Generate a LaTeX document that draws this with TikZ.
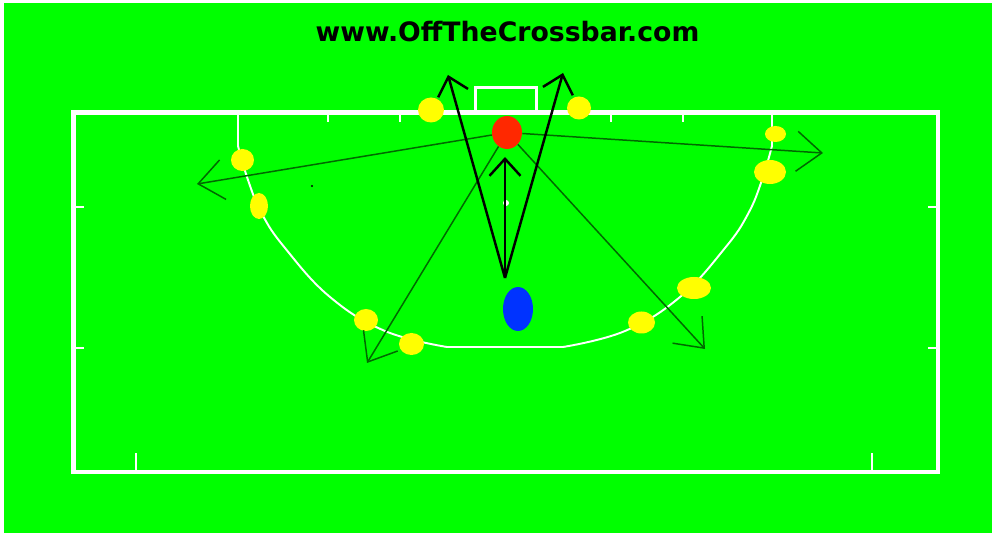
\documentclass[tikz,border=0pt]{standalone}
\usepackage{fontspec}
\newfontfamily\webfont{DejaVu Sans}
\usetikzlibrary{arrows.meta,shapes.geometric}
\definecolor{turf}{RGB}{0,255,0}
\definecolor{padyellow}{RGB}{255,255,0}
\definecolor{keeperred}{RGB}{255,40,0}
\definecolor{shooterblue}{RGB}{0,51,255}
\definecolor{runline}{RGB}{0,105,0}
\tikzset{
  player/.style={ellipse,inner sep=0pt},
  pass/.style={runline,line width=0.85pt,-{Straight Barb[length=0.5cm,width=0.8cm]}},
  shot/.style={black,line width=1.4pt,-{Straight Barb[length=0.34cm,width=0.62cm]}},
}

\begin{document}
\begin{tikzpicture}[x=0.02cm,y=-0.02cm]
  \useasboundingbox (0,0) rectangle (992,533);
  \fill[white] (0,0) rectangle (992,533);
  \fill[turf] (4,3) rectangle (992,533);
  \node[anchor=base,font=\webfont\bfseries\fontsize{15.2}{18}\selectfont] (site) at (507.5,42) {www.OffTheCrossbar.com};
  % pitch markings
  \begin{scope}[white]
    \draw[line width=2.3pt] (73.5,112.5) rectangle (938,472);
    \draw[line width=1.5pt] (475.5,112.5) |- (536.5,87.5) -- (536.5,112.5);
    \foreach \x in {328,400,611,683} \draw[line width=1.1pt] (\x,112.5) -- ++(0,10);
    \foreach \y in {207,348} {
      \draw[line width=1.1pt] (73.5,\y) -- ++(10,0);
      \draw[line width=1.1pt] (938,\y) -- ++(-10,0);
    }
    \foreach \x in {136,872} \draw[line width=1.1pt] (\x,472) -- ++(0,-19);
    % shooting circle
    \draw[line width=1.1pt] (238,112.5) -- plot[smooth,tension=0.7] coordinates {(238,146) (248,180) (262,214) (285,248) (330,297) (385,331) (447,347)}
      -- plot[smooth,tension=0.7] coordinates {(563,347) (625,331) (680,297) (725,248) (748,214) (762,180) (772,146)} -- (772,112.5);
    \fill (506,203) circle (3);
  \end{scope}
  \fill (312,186) circle (1.2);
  % players
  \node[player,fill=padyellow,minimum width=0.52cm,minimum height=0.5cm] (y1) at (431,110) {};
  \node[player,fill=padyellow,minimum width=0.46cm,minimum height=0.44cm] (y2) at (242.5,160) {};
  \node[player,fill=padyellow,minimum width=0.36cm,minimum height=0.52cm] (y3) at (259,206) {};
  \node[player,fill=padyellow,minimum width=0.48cm,minimum height=0.46cm] (y4) at (579,108) {};
  \node[player,fill=padyellow,minimum width=0.42cm,minimum height=0.32cm] (y5) at (775.5,134) {};
  \node[player,fill=padyellow,minimum width=0.64cm,minimum height=0.48cm] (y6) at (770,172) {};
  \node[player,fill=padyellow,minimum width=0.48cm,minimum height=0.44cm] (y7) at (366,320) {};
  \node[player,fill=padyellow,minimum width=0.5cm,minimum height=0.44cm] (y8) at (411.5,344) {};
  \node[player,fill=padyellow,minimum width=0.54cm,minimum height=0.44cm] (y9) at (641.5,322.5) {};
  \node[player,fill=padyellow,minimum width=0.68cm,minimum height=0.44cm] (y10) at (694,288) {};
  \node[player,fill=keeperred,minimum width=0.6cm,minimum height=0.66cm] (keeper) at (507,132.5) {};
  \node[player,fill=shooterblue,minimum width=0.6cm,minimum height=0.88cm] (shooter) at (518,309) {};
  % passes out of the keeper
  \coordinate (wideL) at (197,184);
  \coordinate (wideR) at (823,153);
  \coordinate (lowL) at (367,363);
  \coordinate (lowR) at (705,349);
  \draw[pass] (keeper) -- (wideL);
  \draw[pass] (keeper) -- (wideR);
  \draw[pass] (keeper) -- (lowL);
  \draw[pass] (keeper) -- (lowR);
  % shots
  \coordinate (strike) at (505,278);
  \coordinate (postL) at (448,75);
  \coordinate (postR) at (563,73);
  \coordinate (front) at (505,157);
  \draw[shot] (strike) -- (postL);
  \draw[shot] (strike) -- (postR);
  \draw[shot] (strike) -- (front);
\end{tikzpicture}
\end{document}
